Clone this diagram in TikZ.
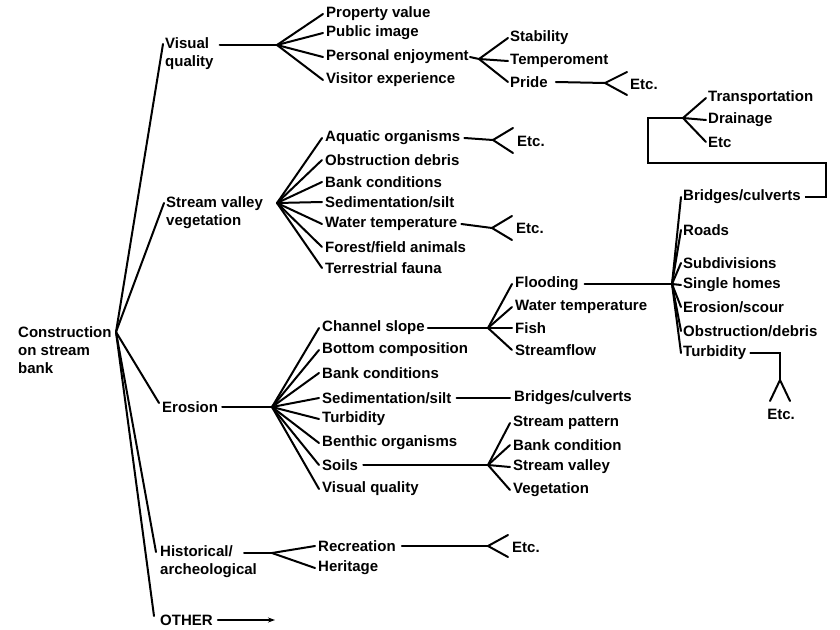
\documentclass[tikz,border=0pt]{standalone}
\usepackage{fontspec}
\setmainfont{Liberation Sans}
\usetikzlibrary{arrows.meta}
\newcommand\lblfont{\fontsize{15}{18}\selectfont\bfseries}
\begin{document}
\begin{tikzpicture}[x=1pt,y=-1pt,
  lbl/.style={anchor=west,inner sep=0pt,font=\lblfont},
  ml/.style={anchor=north west,inner sep=0pt,align=left,font=\lblfont},
  ctr/.style={anchor=center,inner sep=0pt,font=\lblfont},
  ln/.style={line width=2pt,line cap=round,line join=round}]
\useasboundingbox (0,0) rectangle (840,629);

% ---------- root ----------
\node[ml] (root) at (18,326) {Construction\\on stream\\bank};
\coordinate (rt) at (116,332);

% ---------- level 1 ----------
\node[ml] (vq) at (165,37) {Visual\\quality};
\node[ml] (svv) at (166,196) {Stream valley\\vegetation};
\node[lbl] (er) at (162,407) {Erosion};
\node[ml] (hi) at (160,545) {Historical/\\archeological};
\node[lbl] (ot) at (160,620) {OTHER};

\draw[ln] (rt) -- ([xshift=-2pt,yshift=-7pt]vq.north west);
\draw[ln] (rt) -- ([xshift=-2pt,yshift=-7pt]svv.north west);
\draw[ln] (rt) -- ([xshift=-3pt,yshift=4pt]er.west);
\draw[ln] (rt) -- ([xshift=-4pt,yshift=-7pt]hi.north west);
\draw[ln] (rt) -- ([xshift=-6pt,yshift=4pt]ot.west);
\coordinate (oar) at (275,620);
\draw[ln,-{Stealth[length=7pt,width=5pt]}] ([xshift=5pt]ot.east) -- (oar);

% ---------- Visual quality ----------
\coordinate (fvq) at (277,45);
\draw[ln] ([xshift=6pt,yshift=-8pt]vq.north east) -- (fvq);
\node[lbl] (pv) at (326,14) {Property value};
\node[lbl] (pim) at (326,33) {Public image};
\node[lbl] (pe) at (326,57) {Personal enjoyment};
\node[lbl] (ve) at (326,80) {Visitor experience};
\foreach \n in {pv,pim,pe,ve} \draw[ln] (fvq) -- ([xshift=-3pt]\n.west);

\coordinate (fpe) at (479,59);
\draw[ln] ([xshift=1pt]pe.east) -- (fpe);
\node[lbl] (st) at (510,38) {Stability};
\node[lbl] (tm) at (510,61) {Temperoment};
\node[lbl] (pr) at (510,82) {Pride};
\foreach \n in {st,tm,pr} \draw[ln] (fpe) -- ([xshift=-2pt]\n.west);

\coordinate (fpr) at (605,83);
\coordinate (pra) at (627,72);
\coordinate (prb) at (627,95);
\node[lbl] (etca) at (630,84) {Etc.};
\draw[ln] ([xshift=8pt]pr.east) -- (fpr);
\draw[ln] (pra) -- (fpr) -- (prb);

% ---------- Stream valley vegetation ----------
\coordinate (fsv) at (277,203);
\node[lbl] (ao) at (325,138) {Aquatic organisms};
\node[lbl] (od) at (325,160) {Obstruction debris};
\node[lbl] (bka) at (325,182) {Bank conditions};
\node[lbl] (sda) at (325,202) {Sedimentation/silt};
\node[lbl] (wta) at (325,224) {Water temperature};
\node[lbl] (ff) at (325,247) {Forest/field animals};
\node[lbl] (tf) at (325,268) {Terrestrial fauna};
\foreach \n in {ao,od,bka,sda,wta,ff,tf} \draw[ln] (fsv) -- ([xshift=-3pt]\n.west);

\coordinate (fao) at (493,140);
\coordinate (aoa) at (513,128);
\coordinate (aob) at (513,153);
\node[lbl] (etcb) at (517,141) {Etc.};
\draw[ln] ([xshift=4pt]ao.east) -- (fao);
\draw[ln] (aoa) -- (fao) -- (aob);

\coordinate (fwt) at (492,228);
\coordinate (wtx) at (512,216);
\coordinate (wty) at (512,240);
\node[lbl] (etcc) at (516,228) {Etc.};
\draw[ln] ([xshift=4pt]wta.east) -- (fwt);
\draw[ln] (wtx) -- (fwt) -- (wty);

% ---------- Erosion ----------
\coordinate (fer) at (272,407);
\draw[ln] ([xshift=4pt]er.east) -- (fer);
\node[lbl] (cs) at (322,328) {Channel slope};
\node[lbl] (bcm) at (322,350) {Bottom composition};
\node[lbl] (bkb) at (322,373) {Bank conditions};
\node[lbl] (sdb) at (322,398) {Sedimentation/silt};
\node[lbl] (tba) at (322,419) {Turbidity};
\node[lbl] (bo) at (322,443) {Benthic organisms};
\node[lbl] (so) at (322,465) {Soils};
\node[lbl] (vqb) at (322,489) {Visual quality};
\foreach \n in {cs,bcm,bkb,sdb,tba,bo,so,vqb} \draw[ln] (fer) -- ([xshift=-3pt]\n.west);

% Channel slope
\coordinate (fcs) at (488,328);
\draw[ln] ([xshift=3pt]cs.east) -- (fcs);
\node[lbl] (fl) at (515,284) {Flooding};
\node[lbl] (wtb) at (515,307) {Water temperature};
\node[lbl] (fi) at (515,328) {Fish};
\node[lbl] (sf) at (515,350) {Streamflow};
\foreach \n in {fl,wtb,fi,sf} \draw[ln] (fcs) -- ([xshift=-3pt]\n.west);

% Flooding
\coordinate (fbr) at (672,284);
\draw[ln] ([xshift=6pt]fl.east) -- (fbr);
\node[lbl] (bcva) at (683,197) {Bridges/culverts};
\node[lbl] (rd) at (683,230) {Roads};
\node[lbl] (sbd) at (683,263) {Subdivisions};
\node[lbl] (sh) at (683,285) {Single homes};
\node[lbl] (esc) at (683,307) {Erosion/scour};
\node[lbl] (obd) at (683,331) {Obstruction/debris};
\node[lbl] (tbb) at (683,353) {Turbidity};
\foreach \n in {bcva,rd,sbd,sh,esc,obd,tbb} \draw[ln] (fbr) -- ([xshift=-2pt]\n.west);

% Bridges/culverts -> Transportation fan
\coordinate (k1) at (826,163);
\coordinate (k2) at (648,163);
\coordinate (ftr) at (683,118);
\draw[ln,line cap=butt,line join=miter] ([xshift=4pt]bcva.east) -| (k1) -- (k2) |- (ftr);
\node[lbl] (tr) at (708,98) {Transportation};
\node[lbl] (dr) at (708,120) {Drainage};
\node[lbl] (etcd) at (708,142) {Etc};
\foreach \n in {tr,dr,etcd} \draw[ln] (ftr) -- ([xshift=-2pt]\n.west);

% Turbidity -> Etc.
\coordinate (ftb) at (780,380);
\coordinate (tbx) at (770,401);
\coordinate (tby) at (790,401);
\node[ctr] (etce) at (781,414) {Etc.};
\draw[ln,line join=miter] ([xshift=4pt]tbb.east) -| (ftb);
\draw[ln] (tbx) -- (ftb) -- (tby);

% Sedimentation/silt -> Bridges/culverts
\node[lbl] (bcvb) at (514,398) {Bridges/culverts};
\draw[ln] ([xshift=5pt]sdb.east) -- ([xshift=-4pt]bcvb.west);

% Soils
\coordinate (fso) at (488,465);
\draw[ln] ([xshift=5pt]so.east) -- (fso);
\node[lbl] (sp) at (513,423) {Stream pattern};
\node[lbl] (bcd) at (513,445) {Bank condition};
\node[lbl] (svl) at (513,467) {Stream valley};
\node[lbl] (vg) at (513,490) {Vegetation};
\foreach \n in {sp,bcd,svl,vg} \draw[ln] (fso) -- ([xshift=-3pt]\n.west);

% ---------- Historical ----------
\coordinate (fhi) at (272,553);
\draw[ln] ([xshift=84pt,yshift=-8pt]hi.north west) -- (fhi);
\node[lbl] (rc) at (318,546) {Recreation};
\node[lbl] (hr) at (318,568) {Heritage};
\foreach \n in {rc,hr} \draw[ln] (fhi) -- ([xshift=-3pt]\n.west);

\coordinate (frc) at (488,546);
\coordinate (rca) at (508,535);
\coordinate (rcb) at (508,557);
\node[lbl] (etcf) at (512,547) {Etc.};
\draw[ln] ([xshift=6pt]rc.east) -- (frc);
\draw[ln] (rca) -- (frc) -- (rcb);
\end{tikzpicture}
\end{document}
